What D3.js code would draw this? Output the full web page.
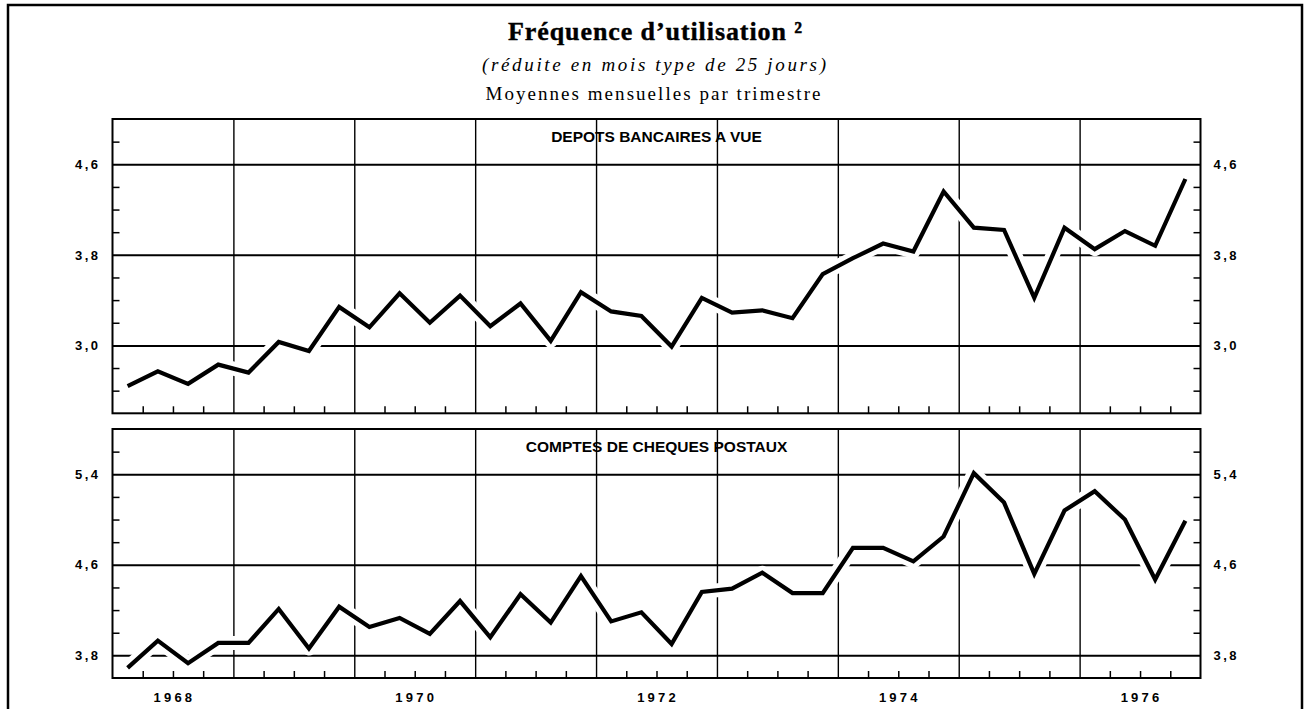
<!DOCTYPE html>
<html>
<head>
<meta charset="utf-8">
<script src="https://cdn.jsdelivr.net/npm/d3@7/dist/d3.min.js"></script>
<style>
	body { margin: 0; background: #fff; }
	.grid line { stroke: #000; }
	.grid path { display: none; }
	.tick text { fill: #000; }
</style>
</head>
<body>
<div id="chart"></div>
<script>
// quarterly averages, 1968 Q1 .. 1976 Q4
var years = [1968, 1969, 1970, 1971, 1972, 1973, 1974, 1975, 1976];
var depots = [2.64, 2.77, 2.66, 2.83, 2.76, 3.03, 2.95, 3.34, 3.16, 3.46, 3.20, 3.44,
	3.17, 3.37, 3.04, 3.47, 3.30, 3.26, 2.99, 3.42, 3.29, 3.31, 3.24, 3.63,
	3.77, 3.90, 3.83, 4.36, 4.04, 4.02, 3.42, 4.04, 3.85, 4.01, 3.88, 4.47];
var postaux = [3.69, 3.93, 3.73, 3.91, 3.91, 4.21, 3.86, 4.23, 4.05, 4.13, 3.99, 4.28,
	3.96, 4.34, 4.09, 4.50, 4.10, 4.18, 3.90, 4.36, 4.39, 4.53, 4.35, 4.35,
	4.75, 4.75, 4.63, 4.85, 5.41, 5.15, 4.52, 5.08, 5.25, 5.00, 4.47, 4.99];
var xLabels = [1968, 1970, 1972, 1974, 1976];
var gridTop = [3.0, 3.8, 4.6];
var gridBottom = [3.8, 4.6, 5.4];
var titles = ["DEPOTS BANCAIRES A VUE", "COMPTES DE CHEQUES POSTAUX"];

var width = 1311, height = 709;

var svg = d3.select("#chart").append("svg")
	.attr("width", width)
	.attr("height", height);

//outer frame
svg.append("rect")
	.attr("x", 8).attr("y", 5)
	.attr("width", 1294).attr("height", 710)
	.attr("fill", "none")
	.attr("stroke", "#000")
	.attr("stroke-width", 2.5);

//titles
svg.append("text")
	.attr("x", 655).attr("y", 40)
	.attr("text-anchor", "middle")
	.attr("textLength", 294)
	.attr("lengthAdjust", "spacing")
	.style("font-family", "'Liberation Serif', serif")
	.style("font-weight", "bold")
	.style("font-size", "26px")
	.style("stroke", "#000")
	.style("stroke-width", 0.4)
	.text("Fréquence d’utilisation ²");

svg.append("text")
	.attr("x", 654).attr("y", 71)
	.attr("text-anchor", "middle")
	.attr("textLength", 344)
	.attr("lengthAdjust", "spacing")
	.style("font-family", "'Liberation Serif', serif")
	.style("font-style", "italic")
	.style("font-size", "19px")
	.text("(réduite en mois type de 25 jours)");

svg.append("text")
	.attr("x", 653).attr("y", 100)
	.attr("text-anchor", "middle")
	.attr("textLength", 335)
	.attr("lengthAdjust", "spacing")
	.style("font-family", "'Liberation Serif', serif")
	.style("font-size", "19px")
	.text("Moyennes mensuelles par trimestre");

//x scale shared by both panels
var xScale = d3.scaleLinear()
	.domain([1968, 1977])
	.range([112.5, 1200.5]);

//quarter positions (middle of each quarter)
var quarters = [];
years.forEach(function(y) {
	for (var q = 0; q < 4; q++) quarters.push(y + (q + 0.5) / 4);
});

//quarter boundaries for the small ticks
var quarterTicks = [];
years.forEach(function(y) {
	for (var q = 1; q < 4; q++) quarterTicks.push(y + q / 4);
});

function draw_panel(values, domain, top, bottom, grid, title, showYears) {

	var yScale = d3.scaleLinear()
		.domain(domain)
		.range([bottom, top]);

	var left = xScale.range()[0], right = xScale.range()[1];
	var panel = svg.append("g");

	//minor y ticks every 0.2
	var minor = d3.range(Math.round(domain[0] * 5) + 1, Math.round(domain[1] * 5)).map(function(d) { return d / 5; })
		.filter(function(d) { return grid.indexOf(+d.toFixed(1)) < 0; });

	//horizontal grid lines
	panel.append("g")
		.attr("class", "grid")
		.attr("transform", "translate(" + left + ",0)")
		.call(d3.axisLeft(yScale).tickValues(grid).tickSize(-(right - left)).tickFormat(""))
		.selectAll("line").attr("stroke-width", 2);

	//vertical grid lines at year boundaries
	panel.append("g")
		.attr("class", "grid")
		.attr("transform", "translate(0," + bottom + ")")
		.call(d3.axisBottom(xScale).tickValues(years.slice(1)).tickSize(-(bottom - top)).tickFormat(""))
		.selectAll("line").attr("stroke-width", 1.4);

	//quarter ticks
	panel.append("g")
		.attr("class", "grid")
		.attr("transform", "translate(0," + bottom + ")")
		.call(d3.axisBottom(xScale).tickValues(quarterTicks).tickSize(-7).tickFormat(""))
		.selectAll("line").attr("stroke-width", 1.5);

	//left and right minor ticks
	panel.append("g")
		.attr("class", "grid")
		.attr("transform", "translate(" + left + ",0)")
		.call(d3.axisLeft(yScale).tickValues(minor).tickSize(-7).tickFormat(""))
		.selectAll("line").attr("stroke-width", 1.5);
	panel.append("g")
		.attr("class", "grid")
		.attr("transform", "translate(" + right + ",0)")
		.call(d3.axisRight(yScale).tickValues(minor).tickSize(-7).tickFormat(""))
		.selectAll("line").attr("stroke-width", 1.5);

	//y labels both sides
	var fmt = function(d) { return d.toFixed(1).replace(".", ","); };
	[[left, d3.axisLeft, 12], [right, d3.axisRight, 13]].forEach(function(s) {
		var g = panel.append("g")
			.attr("class", "grid")
			.attr("transform", "translate(" + s[0] + ",0)")
			.call(s[1](yScale).tickValues(grid).tickSize(0).tickPadding(s[2]).tickFormat(fmt));
		g.selectAll("text")
			.style("font-family", "'Liberation Sans', Arial, sans-serif")
			.style("font-weight", "bold")
			.style("font-size", "13px")
			.style("letter-spacing", "2.5px");
	});

	//panel title
	panel.append("text")
		.attr("x", (left + right) / 2)
		.attr("y", top + 22.5)
		.attr("text-anchor", "middle")
		.style("font-family", "'Liberation Sans', Arial, sans-serif")
		.style("font-weight", "bold")
		.style("font-size", "15.5px")
		.text(title);

	//the series, with a white halo that cuts the grid
	var line = d3.line()
		.x(function(d, i) { return xScale(quarters[i]); })
		.y(function(d) { return yScale(d); });

	panel.append("path")
		.datum(values)
		.attr("d", line)
		.attr("fill", "none")
		.attr("stroke", "#fff")
		.attr("stroke-width", 14)
		.attr("stroke-linejoin", "round");

	panel.append("path")
		.datum(values)
		.attr("d", line)
		.attr("fill", "none")
		.attr("stroke", "#000")
		.attr("stroke-width", 4.2)
		.attr("stroke-linejoin", "miter");

	//panel border
	panel.append("rect")
		.attr("x", left).attr("y", top)
		.attr("width", right - left).attr("height", bottom - top)
		.attr("fill", "none")
		.attr("stroke", "#000")
		.attr("stroke-width", 2);

	//year labels under the lower panel
	if (showYears) {
		svg.selectAll(".year")
			.data(xLabels)
			.enter().append("text")
			.attr("class", "year")
			.attr("x", function(d) { return xScale(d + 0.5) + 1.5; })
			.attr("y", bottom + 24)
			.attr("text-anchor", "middle")
			.style("font-family", "'Liberation Sans', Arial, sans-serif")
			.style("font-weight", "bold")
			.style("font-size", "13px")
			.style("letter-spacing", "3.2px")
			.text(function(d) { return d; });
	}
}

draw_panel(depots, [2.4, 5.0], 119, 413.3, gridTop, titles[0], false);
draw_panel(postaux, [3.6, 5.8], 429, 678, gridBottom, titles[1], true);
</script>
</body>
</html>
